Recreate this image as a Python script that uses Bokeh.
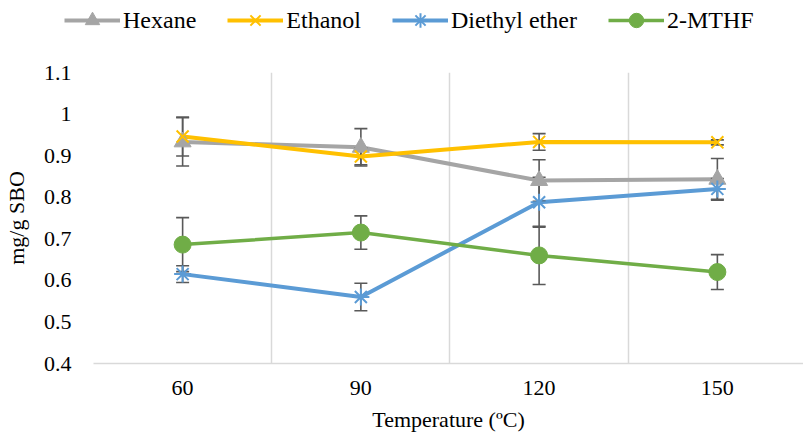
from bokeh.plotting import figure
from bokeh.layouts import column
from bokeh.models import Range1d, FixedTicker, Legend, LegendItem
from bokeh.embed import file_html
from bokeh.resources import INLINE

# ---- data ----
temps = ["60", "90", "120", "150"]
series_names = ["Hexane", "Ethanol", "Diethyl ether", "2-MTHF"]
hexane = [0.933, 0.920, 0.840, 0.843]
hexane_err = [0.058, 0.045, 0.050, 0.050]
ethanol = [0.946, 0.898, 0.933, 0.932]
ethanol_err = [0.047, 0.020, 0.020, 0.006]
diethyl = [0.615, 0.560, 0.788, 0.820]
diethyl_err = [0.020, 0.033, 0.060, 0.025]
mthf = [0.686, 0.715, 0.660, 0.620]
mthf_err = [0.065, 0.040, 0.070, 0.042]
y_ticks = [0.4, 0.5, 0.6, 0.7, 0.8, 0.9, 1.0, 1.1]
y_tick_labels = ["0.4", "0.5", "0.6", "0.7", "0.8", "0.9", "1", "1.1"]

FONT = "Liberation Serif"
NAN = float("nan")
xs = [i + 1 for i in range(len(temps))]

LG_H = 50
p = figure(width=803, height=441 - LG_H, output_backend="svg", toolbar_location=None,
           x_range=Range1d(0.5, 0.5 + 713 / 179), y_range=Range1d(0.4, 1.1),
           min_border_left=90, min_border_right=0, min_border_top=72 - LG_H, min_border_bottom=78)
p.frame_align = False
p.outline_line_color = None
p.background_fill_color = "white"

# axes
p.xaxis.ticker = FixedTicker(ticks=xs)
p.xaxis.major_label_overrides = {x: t for x, t in zip(xs, temps)}
p.yaxis.ticker = FixedTicker(ticks=y_ticks)
p.yaxis.major_label_overrides = {t: l for t, l in zip(y_ticks, y_tick_labels)}
for ax in (p.xaxis[0], p.yaxis[0]):
    ax.major_tick_out = 0
    ax.major_tick_in = 0
    ax.minor_tick_out = 0
    ax.minor_tick_in = 0
    ax.major_label_text_font = FONT
    ax.major_label_text_font_size = "22px"
    ax.major_label_text_color = "black"
    ax.axis_label_text_font = FONT
    ax.axis_label_text_font_size = "22px"
    ax.axis_label_text_font_style = "normal"
    ax.axis_label_text_color = "black"
p.xaxis.axis_label = "Temperature (ºC)"
p.yaxis.axis_label = "mg/g SBO"
p.xaxis.axis_line_color = "#D9D9D9"
p.xaxis.axis_line_width = 1.5
p.yaxis.axis_line_color = None
p.xaxis.major_label_standoff = 17
p.xaxis.axis_label_standoff = 9
p.yaxis.major_label_standoff = 22
p.yaxis.axis_label_standoff = 12

p.ygrid.visible = False
p.xgrid.ticker = FixedTicker(ticks=[i + 0.5 for i in range(len(temps) + 1)])
p.xgrid.grid_line_color = "#D9D9D9"
p.xgrid.grid_line_width = 1.5

series = [
    (hexane, hexane_err, "#A5A5A5", "triangle", 17, 4),
    (ethanol, ethanol_err, "#FFC000", "x", 17, 4),
    (diethyl, diethyl_err, "#5B9BD5", "asterisk", 17, 4),
    (mthf, mthf_err, "#70AD47", "circle", 17, 3.5),
]

for vals, err, col, mk, sz, lw in series:
    p.line(xs, vals, line_color=col, line_width=lw)

for vals, err, col, mk, sz, lw in series:
    up = [v + e for v, e in zip(vals, err)]
    lo = [v - e for v, e in zip(vals, err)]
    p.segment(xs, lo, xs, up, line_color="#595959", line_width=1.6)
    p.scatter(xs, up, marker="dash", size=13, line_color="#595959", line_width=1.6)
    p.scatter(xs, lo, marker="dash", size=13, line_color="#595959", line_width=1.6)

for vals, err, col, mk, sz, lw in series:
    if mk in ("x", "asterisk"):
        p.scatter(xs, vals, marker=mk, size=sz, line_color=col, line_width=2, fill_color=None)
    else:
        p.scatter(xs, vals, marker=mk, size=sz, line_color=col, fill_color=col)

# ---- legend strip above the plot ----
lg = figure(width=803, height=LG_H, output_backend="svg", toolbar_location=None,
            x_range=Range1d(0, 1), y_range=Range1d(0, 1),
            min_border_left=0, min_border_right=0, min_border_top=0, min_border_bottom=0)
lg.frame_align = False
lg.axis.visible = False
lg.grid.visible = False
lg.outline_line_color = None
items = []
for name, (vals, err, col, mk, sz, lw) in zip(series_names, series):
    lr = lg.line([NAN], [NAN], line_color=col, line_width=lw)
    if mk in ("x", "asterisk"):
        mr = lg.scatter([NAN], [NAN], marker=mk, size=sz, line_color=col, line_width=2, fill_color=None)
    else:
        mr = lg.scatter([NAN], [NAN], marker=mk, size=sz, line_color=col, fill_color=col)
    items.append(LegendItem(label=name, renderers=[lr, mr]))

GH = 36
legend = Legend(items=items, orientation="horizontal", location=(64, LG_H - 20 - GH // 2),
                glyph_width=56, glyph_height=GH, label_height=GH, label_standoff=3, spacing=31,
                padding=0, margin=0, border_line_color=None, background_fill_alpha=0,
                label_text_font=FONT, label_text_font_size="24px", label_text_color="black")
lg.add_layout(legend)

layout = column(lg, p, spacing=0)
open("out.html", "w").write(file_html(layout, INLINE))
